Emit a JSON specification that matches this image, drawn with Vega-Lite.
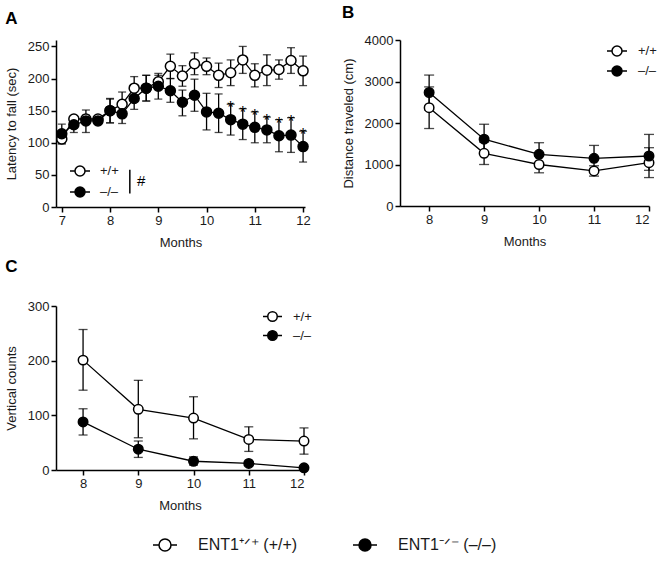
{
  "$schema": "https://vega.github.io/schema/vega-lite/v6.json",
  "padding": {"left": 5, "top": 4, "right": 5, "bottom": 5},
  "config": {
    "font": "Liberation Sans",
    "view": {"stroke": null},
    "axis": {"domainColor": "black", "domainWidth": 1.5, "tickColor": "black", "tickWidth": 1.5, "tickSize": 5, "labelColor": "#1a1a1a", "labelFontSize": 13, "titleFontSize": 13, "titleFontWeight": "normal", "titleColor": "#1a1a1a", "grid": false, "labelPadding": 2, "titlePadding": 9}
  },
  "datasets": {
    "a": [
      {"month": 7, "g": "+/+", "mean": 106, "lo": 98, "hi": 114},
      {"month": 7.25, "g": "+/+", "mean": 137, "lo": 132, "hi": 142},
      {"month": 7.5, "g": "+/+", "mean": 137, "lo": 131, "hi": 143},
      {"month": 7.75, "g": "+/+", "mean": 137, "lo": 133, "hi": 141},
      {"month": 8, "g": "+/+", "mean": 150, "lo": 131, "hi": 169},
      {"month": 8.25, "g": "+/+", "mean": 160, "lo": 141, "hi": 179},
      {"month": 8.5, "g": "+/+", "mean": 185, "lo": 167, "hi": 203},
      {"month": 8.75, "g": "+/+", "mean": 185, "lo": 165, "hi": 205},
      {"month": 9, "g": "+/+", "mean": 195, "lo": 185, "hi": 205},
      {"month": 9.25, "g": "+/+", "mean": 219, "lo": 200, "hi": 238},
      {"month": 9.5, "g": "+/+", "mean": 204, "lo": 188, "hi": 220},
      {"month": 9.75, "g": "+/+", "mean": 223, "lo": 206, "hi": 240},
      {"month": 10, "g": "+/+", "mean": 219, "lo": 206, "hi": 232},
      {"month": 10.25, "g": "+/+", "mean": 205, "lo": 186, "hi": 224},
      {"month": 10.5, "g": "+/+", "mean": 209, "lo": 189, "hi": 229},
      {"month": 10.75, "g": "+/+", "mean": 229, "lo": 208, "hi": 250},
      {"month": 11, "g": "+/+", "mean": 205, "lo": 187, "hi": 223},
      {"month": 11.25, "g": "+/+", "mean": 213, "lo": 189, "hi": 237},
      {"month": 11.5, "g": "+/+", "mean": 214, "lo": 199, "hi": 229},
      {"month": 11.75, "g": "+/+", "mean": 228, "lo": 208, "hi": 248},
      {"month": 12, "g": "+/+", "mean": 212, "lo": 189, "hi": 235},
      {"month": 7, "g": "–/–", "mean": 114, "lo": 99, "hi": 129},
      {"month": 7.25, "g": "–/–", "mean": 128, "lo": 116, "hi": 140},
      {"month": 7.5, "g": "–/–", "mean": 134, "lo": 116, "hi": 151},
      {"month": 7.75, "g": "–/–", "mean": 134, "lo": 129, "hi": 139},
      {"month": 8, "g": "–/–", "mean": 150, "lo": 131, "hi": 168},
      {"month": 8.25, "g": "–/–", "mean": 145, "lo": 130, "hi": 160},
      {"month": 8.5, "g": "–/–", "mean": 169, "lo": 152, "hi": 186},
      {"month": 8.75, "g": "–/–", "mean": 185, "lo": 165, "hi": 205},
      {"month": 9, "g": "–/–", "mean": 188, "lo": 168, "hi": 208},
      {"month": 9.25, "g": "–/–", "mean": 181, "lo": 163, "hi": 200},
      {"month": 9.5, "g": "–/–", "mean": 163, "lo": 142, "hi": 182},
      {"month": 9.75, "g": "–/–", "mean": 174, "lo": 149, "hi": 199},
      {"month": 10, "g": "–/–", "mean": 148, "lo": 120, "hi": 177},
      {"month": 10.25, "g": "–/–", "mean": 146, "lo": 116, "hi": 176},
      {"month": 10.5, "g": "–/–", "mean": 136, "lo": 112, "hi": 160, "sig": "*"},
      {"month": 10.75, "g": "–/–", "mean": 129, "lo": 105, "hi": 153, "sig": "*"},
      {"month": 11, "g": "–/–", "mean": 124, "lo": 100, "hi": 148, "sig": "*"},
      {"month": 11.25, "g": "–/–", "mean": 120, "lo": 100, "hi": 140, "sig": "*"},
      {"month": 11.5, "g": "–/–", "mean": 111, "lo": 86, "hi": 136, "sig": "*"},
      {"month": 11.75, "g": "–/–", "mean": 112, "lo": 85, "hi": 139, "sig": "*"},
      {"month": 12, "g": "–/–", "mean": 94, "lo": 70, "hi": 118, "sig": "*"}
    ],
    "annot": [
      {"x": 8.41, "y1": 21, "y2": 58, "label": "#", "ty": 40, "tx": 8.56}
    ],
    "b": [
      {"month": 8, "g": "+/+", "mean": 2370, "lo": 1867, "hi": 2870},
      {"month": 9, "g": "+/+", "mean": 1270, "lo": 1000, "hi": 1540},
      {"month": 10, "g": "+/+", "mean": 1000, "lo": 800, "hi": 1200},
      {"month": 11, "g": "+/+", "mean": 845, "lo": 720, "hi": 970},
      {"month": 12, "g": "+/+", "mean": 1045, "lo": 685, "hi": 1405},
      {"month": 8, "g": "–/–", "mean": 2735, "lo": 2315, "hi": 3155},
      {"month": 9, "g": "–/–", "mean": 1610, "lo": 1250, "hi": 1970},
      {"month": 10, "g": "–/–", "mean": 1245, "lo": 965, "hi": 1525},
      {"month": 11, "g": "–/–", "mean": 1150, "lo": 840, "hi": 1460},
      {"month": 12, "g": "–/–", "mean": 1205, "lo": 860, "hi": 1725}
    ],
    "c": [
      {"month": 8, "g": "+/+", "mean": 201, "lo": 146, "hi": 257},
      {"month": 9, "g": "+/+", "mean": 111, "lo": 59, "hi": 164},
      {"month": 10, "g": "+/+", "mean": 95, "lo": 57, "hi": 134},
      {"month": 11, "g": "+/+", "mean": 56, "lo": 34, "hi": 79},
      {"month": 12, "g": "+/+", "mean": 53, "lo": 29, "hi": 77},
      {"month": 8, "g": "–/–", "mean": 88, "lo": 64, "hi": 112},
      {"month": 9, "g": "–/–", "mean": 38, "lo": 23, "hi": 53},
      {"month": 10, "g": "–/–", "mean": 16, "lo": 9, "hi": 24},
      {"month": 11, "g": "–/–", "mean": 12, "lo": 9, "hi": 15},
      {"month": 12, "g": "–/–", "mean": 4, "lo": 2, "hi": 6}
    ]
  },
  "resolve": {"scale": {"fill": "independent"}, "legend": {"fill": "independent"}},
  "spacing": 9,
  "vconcat": [
    {
      "resolve": {"scale": {"fill": "independent"}, "legend": {"fill": "independent"}},
      "spacing": 30,
      "hconcat": [
        {
          "title": {"text": "A", "fontSize": 17, "fontWeight": "bold", "font": "Liberation Sans", "anchor": "start", "offset": 12, "color": "black"},
          "width": 249,
          "height": 167,
          "data": {"name": "a"},
          "encoding": {
            "x": {"field": "month", "type": "quantitative", "scale": {"domain": [6.88, 12.04], "nice": false, "zero": false}, "axis": {"title": "Months", "values": [7, 8, 9, 10, 11, 12], "format": "d"}}
          },
          "layer": [
            {"mark": {"type": "rule", "color": "black", "strokeWidth": 1.3}, "encoding": {"y": {"field": "lo", "type": "quantitative", "scale": {"domain": [0, 250]}, "axis": {"title": "Latency to fall (sec)", "values": [0, 50, 100, 150, 200, 250], "format": "d"}}, "y2": {"field": "hi"}}},
            {"mark": {"type": "tick", "orient": "horizontal", "color": "black", "thickness": 1.3, "size": 8}, "encoding": {"y": {"field": "lo", "type": "quantitative", "axis": {"title": "Latency to fall (sec)", "values": [0, 50, 100, 150, 200, 250], "format": "d"}}}},
            {"mark": {"type": "tick", "orient": "horizontal", "color": "black", "thickness": 1.3, "size": 8}, "encoding": {"y": {"field": "hi", "type": "quantitative", "axis": {"title": "Latency to fall (sec)", "values": [0, 50, 100, 150, 200, 250], "format": "d"}}}},
            {"mark": {"type": "line", "color": "black", "strokeWidth": 1.3}, "encoding": {"y": {"field": "mean", "type": "quantitative", "axis": {"title": "Latency to fall (sec)", "values": [0, 50, 100, 150, 200, 250], "format": "d"}}, "detail": {"field": "g"}}},
            {"mark": {"type": "point", "shape": "circle", "size": 100, "stroke": "black", "strokeWidth": 1.5, "opacity": 1, "fillOpacity": 1, "filled": true}, "encoding": {"y": {"field": "mean", "type": "quantitative", "axis": {"title": "Latency to fall (sec)", "values": [0, 50, 100, 150, 200, 250], "format": "d"}}, "fill": {"field": "g", "type": "nominal", "scale": {"domain": ["+/+", "–/–"], "range": ["white", "black"]}, "legend": {"title": null, "orient": "none", "legendX": 13, "legendY": 120, "padding": 0, "symbolType": "M-1,0H-0.5M0.5,0H1M-0.5,0A0.5,0.5,0,1,1,0.5,0A0.5,0.5,0,1,1,-0.5,0Z", "symbolSize": 400, "symbolStrokeColor": "black", "symbolStrokeWidth": 1.5, "symbolOpacity": 1, "labelFont": "Liberation Sans", "labelFontSize": 13, "labelColor": "#1a1a1a", "labelOffset": 9, "rowPadding": 2}}}},
            {"transform": [{"filter": "datum.sig"}], "mark": {"type": "text", "fontSize": 17, "font": "Liberation Sans", "baseline": "alphabetic", "dy": 9, "color": "black"}, "encoding": {"y": {"field": "hi", "type": "quantitative", "axis": {"title": "Latency to fall (sec)", "values": [0, 50, 100, 150, 200, 250], "format": "d"}}, "text": {"field": "sig"}}},
            {"data": {"name": "annot"}, "mark": {"type": "rule", "color": "black", "strokeWidth": 1.5}, "encoding": {"x": {"field": "x", "type": "quantitative", "axis": {"title": "Months", "values": [7, 8, 9, 10, 11, 12], "format": "d"}}, "y": {"field": "y1", "type": "quantitative", "axis": {"title": "Latency to fall (sec)", "values": [0, 50, 100, 150, 200, 250], "format": "d"}}, "y2": {"field": "y2"}}},
            {"data": {"name": "annot"}, "mark": {"type": "text", "fontSize": 15, "font": "Liberation Sans", "align": "left", "baseline": "middle", "color": "black"}, "encoding": {"x": {"field": "tx", "type": "quantitative", "axis": {"title": "Months", "values": [7, 8, 9, 10, 11, 12], "format": "d"}}, "y": {"field": "ty", "type": "quantitative", "axis": {"title": "Latency to fall (sec)", "values": [0, 50, 100, 150, 200, 250], "format": "d"}}, "text": {"field": "label"}}}
          ]
        },
        {
          "title": {"text": "B", "fontSize": 17, "fontWeight": "bold", "font": "Liberation Sans", "anchor": "start", "offset": 12, "color": "black"},
          "width": 249,
          "height": 166,
          "data": {"name": "b"},
          "encoding": {
            "x": {"field": "month", "type": "quantitative", "scale": {"domain": [7.47, 12], "nice": false, "zero": false}, "axis": {"title": "Months", "values": [8, 9, 10, 11, 12], "format": "d"}}
          },
          "layer": [
            {"mark": {"type": "rule", "color": "black", "strokeWidth": 1.3}, "encoding": {"y": {"field": "lo", "type": "quantitative", "scale": {"domain": [0, 4000]}, "axis": {"title": "Distance traveled (cm)", "values": [0, 1000, 2000, 3000, 4000], "format": "d"}}, "y2": {"field": "hi"}}},
            {"mark": {"type": "tick", "orient": "horizontal", "color": "black", "thickness": 1.3, "size": 10}, "encoding": {"y": {"field": "lo", "type": "quantitative", "axis": {"title": "Distance traveled (cm)", "values": [0, 1000, 2000, 3000, 4000], "format": "d"}}}},
            {"mark": {"type": "tick", "orient": "horizontal", "color": "black", "thickness": 1.3, "size": 10}, "encoding": {"y": {"field": "hi", "type": "quantitative", "axis": {"title": "Distance traveled (cm)", "values": [0, 1000, 2000, 3000, 4000], "format": "d"}}}},
            {"mark": {"type": "line", "color": "black", "strokeWidth": 1.3}, "encoding": {"y": {"field": "mean", "type": "quantitative", "axis": {"title": "Distance traveled (cm)", "values": [0, 1000, 2000, 3000, 4000], "format": "d"}}, "detail": {"field": "g"}}},
            {"mark": {"type": "point", "shape": "circle", "size": 90, "stroke": "black", "strokeWidth": 1.5, "opacity": 1, "fillOpacity": 1, "filled": true}, "encoding": {"y": {"field": "mean", "type": "quantitative", "axis": {"title": "Distance traveled (cm)", "values": [0, 1000, 2000, 3000, 4000], "format": "d"}}, "fill": {"field": "g", "type": "nominal", "scale": {"domain": ["+/+", "–/–"], "range": ["white", "black"]}, "legend": {"title": null, "orient": "none", "legendX": 206, "legendY": 0, "padding": 0, "symbolType": "M-1,0H-0.5M0.5,0H1M-0.5,0A0.5,0.5,0,1,1,0.5,0A0.5,0.5,0,1,1,-0.5,0Z", "symbolSize": 400, "symbolStrokeColor": "black", "symbolStrokeWidth": 1.5, "symbolOpacity": 1, "labelFont": "Liberation Sans", "labelFontSize": 13, "labelColor": "#1a1a1a", "labelOffset": 10, "rowPadding": 1}}}}
          ]
        }
      ]
    },
    {
      "title": {"text": "C", "fontSize": 17, "fontWeight": "bold", "font": "Liberation Sans", "anchor": "start", "offset": 24, "color": "black"},
      "width": 248,
      "height": 164,
      "data": {"name": "c"},
      "resolve": {"scale": {"fill": "independent"}, "legend": {"fill": "independent"}},
      "encoding": {
        "x": {"field": "month", "type": "quantitative", "scale": {"domain": [7.51, 12], "nice": false, "zero": false}, "axis": {"title": "Months", "values": [8, 9, 10, 11, 12], "format": "d"}}
      },
      "layer": [
        {"mark": {"type": "rule", "color": "black", "strokeWidth": 1.3}, "encoding": {"y": {"field": "lo", "type": "quantitative", "scale": {"domain": [0, 300]}, "axis": {"title": "Vertical counts", "values": [0, 100, 200, 300], "format": "d"}}, "y2": {"field": "hi"}}},
        {"mark": {"type": "tick", "orient": "horizontal", "color": "black", "thickness": 1.3, "size": 9}, "encoding": {"y": {"field": "lo", "type": "quantitative", "axis": {"title": "Vertical counts", "values": [0, 100, 200, 300], "format": "d"}}}},
        {"mark": {"type": "tick", "orient": "horizontal", "color": "black", "thickness": 1.3, "size": 9}, "encoding": {"y": {"field": "hi", "type": "quantitative", "axis": {"title": "Vertical counts", "values": [0, 100, 200, 300], "format": "d"}}}},
        {"mark": {"type": "line", "color": "black", "strokeWidth": 1.3}, "encoding": {"y": {"field": "mean", "type": "quantitative", "axis": {"title": "Vertical counts", "values": [0, 100, 200, 300], "format": "d"}}, "detail": {"field": "g"}}},
        {"mark": {"type": "point", "shape": "circle", "size": 90, "stroke": "black", "strokeWidth": 1.5, "opacity": 1, "fillOpacity": 1, "filled": true}, "encoding": {"y": {"field": "mean", "type": "quantitative", "axis": {"title": "Vertical counts", "values": [0, 100, 200, 300], "format": "d"}}, "fill": {"field": "g", "type": "nominal", "scale": {"domain": ["+/+", "–/–"], "range": ["white", "black"]}, "legend": {"title": null, "orient": "none", "legendX": 206, "legendY": 0, "padding": 0, "symbolType": "M-1,0H-0.5M0.5,0H1M-0.5,0A0.5,0.5,0,1,1,0.5,0A0.5,0.5,0,1,1,-0.5,0Z", "symbolSize": 361, "symbolStrokeColor": "black", "symbolStrokeWidth": 1.5, "symbolOpacity": 1, "labelFont": "Liberation Sans", "labelFontSize": 13, "labelColor": "#1a1a1a", "labelOffset": 10, "rowPadding": -4}}}},
        {"mark": {"type": "point", "shape": "circle", "size": 0, "opacity": 0, "filled": true}, "encoding": {"y": {"field": "mean", "type": "quantitative", "axis": {"title": "Vertical counts", "values": [0, 100, 200, 300], "format": "d"}}, "fill": {"field": "g", "type": "nominal", "scale": {"domain": ["+/+", "–/–"], "range": ["white", "black"]}, "legend": {"title": null, "orient": "none", "direction": "horizontal", "legendX": 96, "legendY": 226, "padding": 0, "symbolType": "M-1,0H-0.5M0.5,0H1M-0.5,0A0.5,0.5,0,1,1,0.5,0A0.5,0.5,0,1,1,-0.5,0Z", "symbolSize": 576, "symbolStrokeColor": "black", "symbolStrokeWidth": 1.5, "symbolOpacity": 1, "labelFont": "Liberation Sans", "labelFontSize": 16, "labelColor": "#1a1a1a", "labelOffset": 20, "columnPadding": 52, "labelLimit": 300, "labelExpr": "datum.label == '+/+' ? 'ENT1⁺ᐟ⁺ (+/+)' : 'ENT1⁻ᐟ⁻ (–/–)'"}}}}
      ]
    }
  ]
}
